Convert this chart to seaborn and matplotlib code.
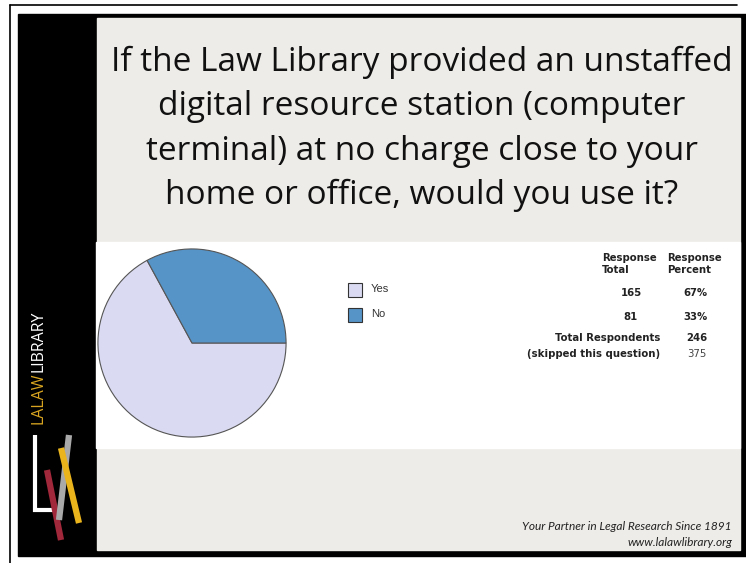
import matplotlib
matplotlib.use("Agg")
import matplotlib.pyplot as plt
import seaborn as sns
from matplotlib.patches import Rectangle

# Survey data
answers = ["Yes", "No"]
totals = [165, 81]
percents = ["67%", "33%"]
total_respondents = 246
skipped = 375
slice_colors = ["#dadaf2", "#5694c8"]

title_lines = [
    "If the Law Library provided an unstaffed",
    "digital resource station (computer",
    "terminal) at no charge close to your",
    "home or office, would you use it?",
]

sns.set_style("white")

fig = plt.figure(figsize=(7.46, 5.63), dpi=100)
bg = fig.add_axes([0, 0, 1, 1])
bg.set_xlim(0, 746)
bg.set_ylim(563, 0)
bg.axis("off")

# slide frame
bg.plot([10, 10], [5, 563], color="black", lw=1.2)
bg.plot([10, 737], [5, 5], color="black", lw=1.2)
bg.add_patch(Rectangle((18, 14), 728, 542, color="black"))
bg.add_patch(Rectangle((97, 18), 643, 532, color="#eeece8"))
bg.add_patch(Rectangle((96, 242), 644, 206, color="white"))

# title
for i, line in enumerate(title_lines):
    bg.text(422, 62 + i * 44.5, line, ha="center", va="center",
            fontsize=24, family="Open Sans", color="#111111")

# side logo
bg.text(39, 372, "LALAW", rotation=90, ha="center", va="top",
        fontsize=11.5, family="Open Sans", color="#d9a521")
bg.text(39, 372, "LIBRARY", rotation=90, ha="center", va="bottom",
        fontsize=11.5, family="Open Sans", color="white")
bg.plot([35, 35, 53], [435, 510, 510], color="white", lw=3,
        solid_joinstyle="miter", solid_capstyle="butt")
bg.plot([47, 61], [470, 540], color="#a0283a", lw=4.5, solid_capstyle="butt")
bg.plot([69, 59], [435, 520], color="#a9a9a9", lw=4.5, solid_capstyle="butt")
bg.plot([61, 79], [448, 523], color="#e9b41c", lw=4.5, solid_capstyle="butt")

# pie
pie_ax = fig.add_axes([97 / 746, 1 - 438 / 563, 190 / 746, 190 / 563])
start = 360 * totals[1] / sum(totals)
pie_ax.pie(totals, colors=slice_colors, startangle=start, counterclock=True,
           wedgeprops=dict(edgecolor="#555555", linewidth=0.8))
pie_ax.set_xlim(-1.01, 1.01)
pie_ax.set_ylim(-1.01, 1.01)
pie_ax.axis("off")

# legend
for i, (name, col) in enumerate(zip(answers, slice_colors)):
    y = 283 + i * 25
    bg.add_patch(Rectangle((348, y), 14, 14, facecolor=col,
                           edgecolor="#333333", lw=0.8))
    bg.text(371, y + 6, name, ha="left", va="center", fontsize=8,
            family="Liberation Sans", color="#333333")

# table
tkw = dict(fontsize=7.3, family="DejaVu Sans", fontweight="bold", color="#222222")
bg.text(602, 258, "Response", ha="left", va="center", **tkw)
bg.text(602, 270, "Total", ha="left", va="center", **tkw)
bg.text(667, 258, "Response", ha="left", va="center", **tkw)
bg.text(667, 270, "Percent", ha="left", va="center", **tkw)
for i, (n, p) in enumerate(zip(totals, percents)):
    y = 293 + i * 24
    bg.text(631, y, str(n), ha="center", va="center", **tkw)
    bg.text(695, y, p, ha="center", va="center", **tkw)
bg.text(660, 338, "Total Respondents", ha="right", va="center", **tkw)
bg.text(697, 338, str(total_respondents), ha="center", va="center", **tkw)
bg.text(660, 354, "(skipped this question)", ha="right", va="center", **tkw)
bg.text(697, 354, str(skipped), ha="center", va="center", fontsize=7.3,
        family="DejaVu Sans", color="#444444")

# footer
bg.text(732, 526, "Your Partner in Legal Research Since 1891", ha="right",
        va="center", fontsize=8.6, family="Lato", style="italic", color="#222222")
bg.text(732, 542, "www.lalawlibrary.org", ha="right", va="center",
        fontsize=8.6, family="Lato", style="italic", color="#222222")

fig.savefig("out.png", dpi=100)
